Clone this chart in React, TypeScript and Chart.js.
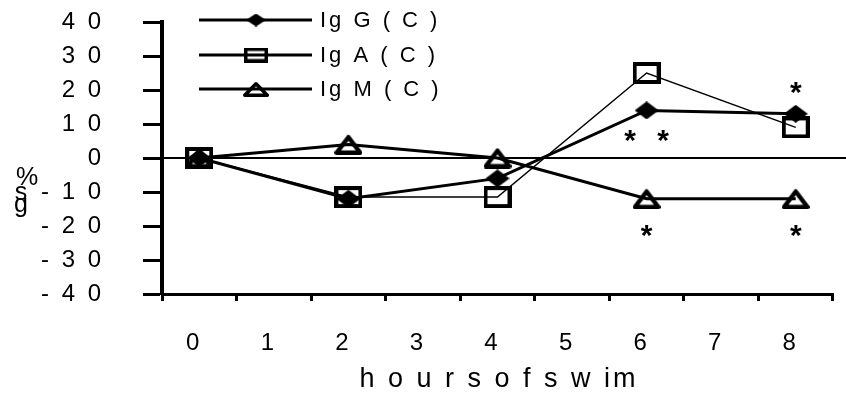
import React, { useEffect, useRef } from 'react';
import { Chart, registerables } from 'chart.js';

Chart.register(...registerables);

// ---- data ----
const hours = ['0', '1', '2', '3', '4', '5', '6', '7', '8'];
const igG = [0, null, -12, null, -6, null, 14, null, 13];
const igA = [0, null, -11.5, null, -11.5, null, 25, null, 9];
const igM = [0, null, 4, null, 0, null, -12, null, -12];
const seriesLabels = ['Ig G ( C )', 'Ig A ( C )', 'Ig M ( C )'];
const yMin = -40;
const yMax = 40;
const yStep = 10;
const xTitle = 'h o u r s o f s w im';
const yTitleParts = ['%', 's', 'g'];
// significance marks (category index, value, text)
const starIndex = [6, 8, 6, 8];
const starValue = [6, 20, -22, -22];
const starText = ['*  *', '*', '*', '*'];

const FONT = 'Arial, "Liberation Sans", sans-serif';

function spaced(s: string) {
  return s.split('').join(' ');
}

function mk(w: number, h: number, draw: (c: CanvasRenderingContext2D) => void) {
  const cv = document.createElement('canvas');
  cv.width = w;
  cv.height = h;
  const c = cv.getContext('2d')!;
  draw(c);
  return cv;
}
function diamond(w: number, h: number) {
  return mk(w, h, (c) => {
    c.fillStyle = '#000';
    c.beginPath();
    c.moveTo(w / 2, 0);
    c.lineTo(w, h / 2);
    c.lineTo(w / 2, h);
    c.lineTo(0, h / 2);
    c.closePath();
    c.fill();
  });
}
function square(w: number, h: number, lw: number) {
  return mk(w, h, (c) => {
    c.strokeStyle = '#000';
    c.lineWidth = lw;
    c.strokeRect(lw / 2, lw / 2, w - lw, h - lw);
  });
}
function triangle(w: number, h: number, lw: number) {
  return mk(w, h, (c) => {
    c.strokeStyle = '#000';
    c.lineWidth = lw;
    c.lineJoin = 'round';
    c.beginPath();
    c.moveTo(w / 2, lw / 2 + 1);
    c.lineTo(w - lw / 2, h - lw / 2);
    c.lineTo(lw / 2, h - lw / 2);
    c.closePath();
    c.stroke();
  });
}

export default function App() {
  const ref = useRef<HTMLCanvasElement>(null);
  useEffect(() => {
    document.body.style.margin = '0';
    const canvas = ref.current!;
    const pts = [diamond(24, 18), square(28, 22, 4), triangle(28, 21, 4.5)];
    const legendPts = [diamond(20, 13), square(24, 15, 3.5), triangle(26, 16, 3.5)];
    const widths = [3, 1.5, 3];

    const extras = {
      id: 'extras',
      beforeDraw(chart: any) {
        chart.ctx.letterSpacing = '3px';
      },
      beforeDatasetsDraw(chart: any) {
        const { ctx, scales, chartArea } = chart;
        const y0 = scales.y.getPixelForValue(0);
        ctx.save();
        ctx.strokeStyle = '#000';
        ctx.lineWidth = 2;
        ctx.beginPath();
        ctx.moveTo(chartArea.left, y0);
        ctx.lineTo(chart.width, y0);
        ctx.stroke();
        ctx.restore();
      },
      afterDraw(chart: any) {
        const { ctx, scales, chartArea } = chart;
        ctx.save();
        ctx.fillStyle = '#000';
        // stars
        ctx.letterSpacing = '1.5px';
        ctx.font = `bold 30px ${FONT}`;
        ctx.textAlign = 'center';
        ctx.textBaseline = 'alphabetic';
        starText.forEach((t, i) => {
          const x = scales.x.getPixelForValue(starIndex[i]);
          const y = scales.y.getPixelForValue(starValue[i]);
          ctx.fillText(t, x + 0.75, y + 12);
        });
        // y title
        ctx.letterSpacing = '0px';
        ctx.font = `25px ${FONT}`;
        ctx.textAlign = 'center';
        ctx.textBaseline = 'middle';
        ctx.fillText(yTitleParts[0], 27, 178);
        ctx.fillText(yTitleParts[1], 21, 193);
        ctx.fillText(yTitleParts[2], 21, 205);
        // x title
        ctx.letterSpacing = '3px';
        ctx.font = `27px ${FONT}`;
        ctx.textBaseline = 'alphabetic';
        ctx.fillText(xTitle, (chartArea.left + chartArea.right) / 2 + 1.5, 387);
        // legend
        const rows = [20, 55, 89];
        ctx.textAlign = 'left';
        ctx.textBaseline = 'middle';
        ctx.font = `22px ${FONT}`;
        chart.data.datasets.forEach((ds: any, i: number) => {
          const y = rows[i];
          ctx.strokeStyle = '#000';
          ctx.lineWidth = 3;
          ctx.beginPath();
          ctx.moveTo(199, y);
          ctx.lineTo(312, y);
          ctx.stroke();
          const img = legendPts[i];
          ctx.drawImage(img, 256 - img.width / 2, y - img.height / 2);
          ctx.fillText(ds.label, 320, y + 1);
        });
        ctx.restore();
      },
    };

    const chart = new Chart(canvas, {
      type: 'line',
      data: {
        labels: hours,
        datasets: [igG, igA, igM].map((d, i) => ({
          label: seriesLabels[i],
          data: d,
          borderColor: '#000',
          backgroundColor: 'rgba(0,0,0,0)',
          borderWidth: widths[i],
          pointStyle: pts[i] as any,
          pointRadius: 10,
          spanGaps: true,
          tension: 0,
        })),
      },
      options: {
        animation: false,
        responsive: false,
        layout: { padding: { top: 22, right: 9, left: 0, bottom: 0 } },
        plugins: { legend: { display: false }, tooltip: { enabled: false } },
        scales: {
          x: {
            type: 'category',
            offset: true,
            border: { display: true, color: '#000', width: 3 },
            grid: {
              offset: true,
              drawOnChartArea: false,
              drawTicks: true,
              tickLength: 7,
              tickWidth: 3,
              tickColor: '#000',
            },
            ticks: {
              color: '#000',
              font: { family: FONT, size: 24 },
              padding: 28,
              maxRotation: 0,
              autoSkip: false,
              labelOffset: -5,
            },
            title: { display: false },
            afterFit(s: any) {
              s.height = 100;
            },
          },
          y: {
            min: yMin,
            max: yMax,
            border: { display: true, color: '#000', width: 4 },
            grid: {
              drawOnChartArea: false,
              drawTicks: true,
              tickLength: 19,
              tickWidth: 3,
              tickColor: '#000',
            },
            ticks: {
              stepSize: yStep,
              autoSkip: false,
              color: '#000',
              font: { family: FONT, size: 24 },
              padding: 39,
              callback: (v: any) => spaced(String(v)),
            },
            afterFit(s: any) {
              s.width = 162;
              s.paddingTop = 8;
              s.paddingBottom = 8;
            },
          },
        },
      },
      plugins: [extras],
    });
    return () => chart.destroy();
  }, []);
  return (
    <div style={{ width: 846, height: 394, overflow: 'hidden', background: '#fff' }}>
      <canvas ref={ref} width={846} height={394} style={{ display: 'block' }} />
    </div>
  );
}
